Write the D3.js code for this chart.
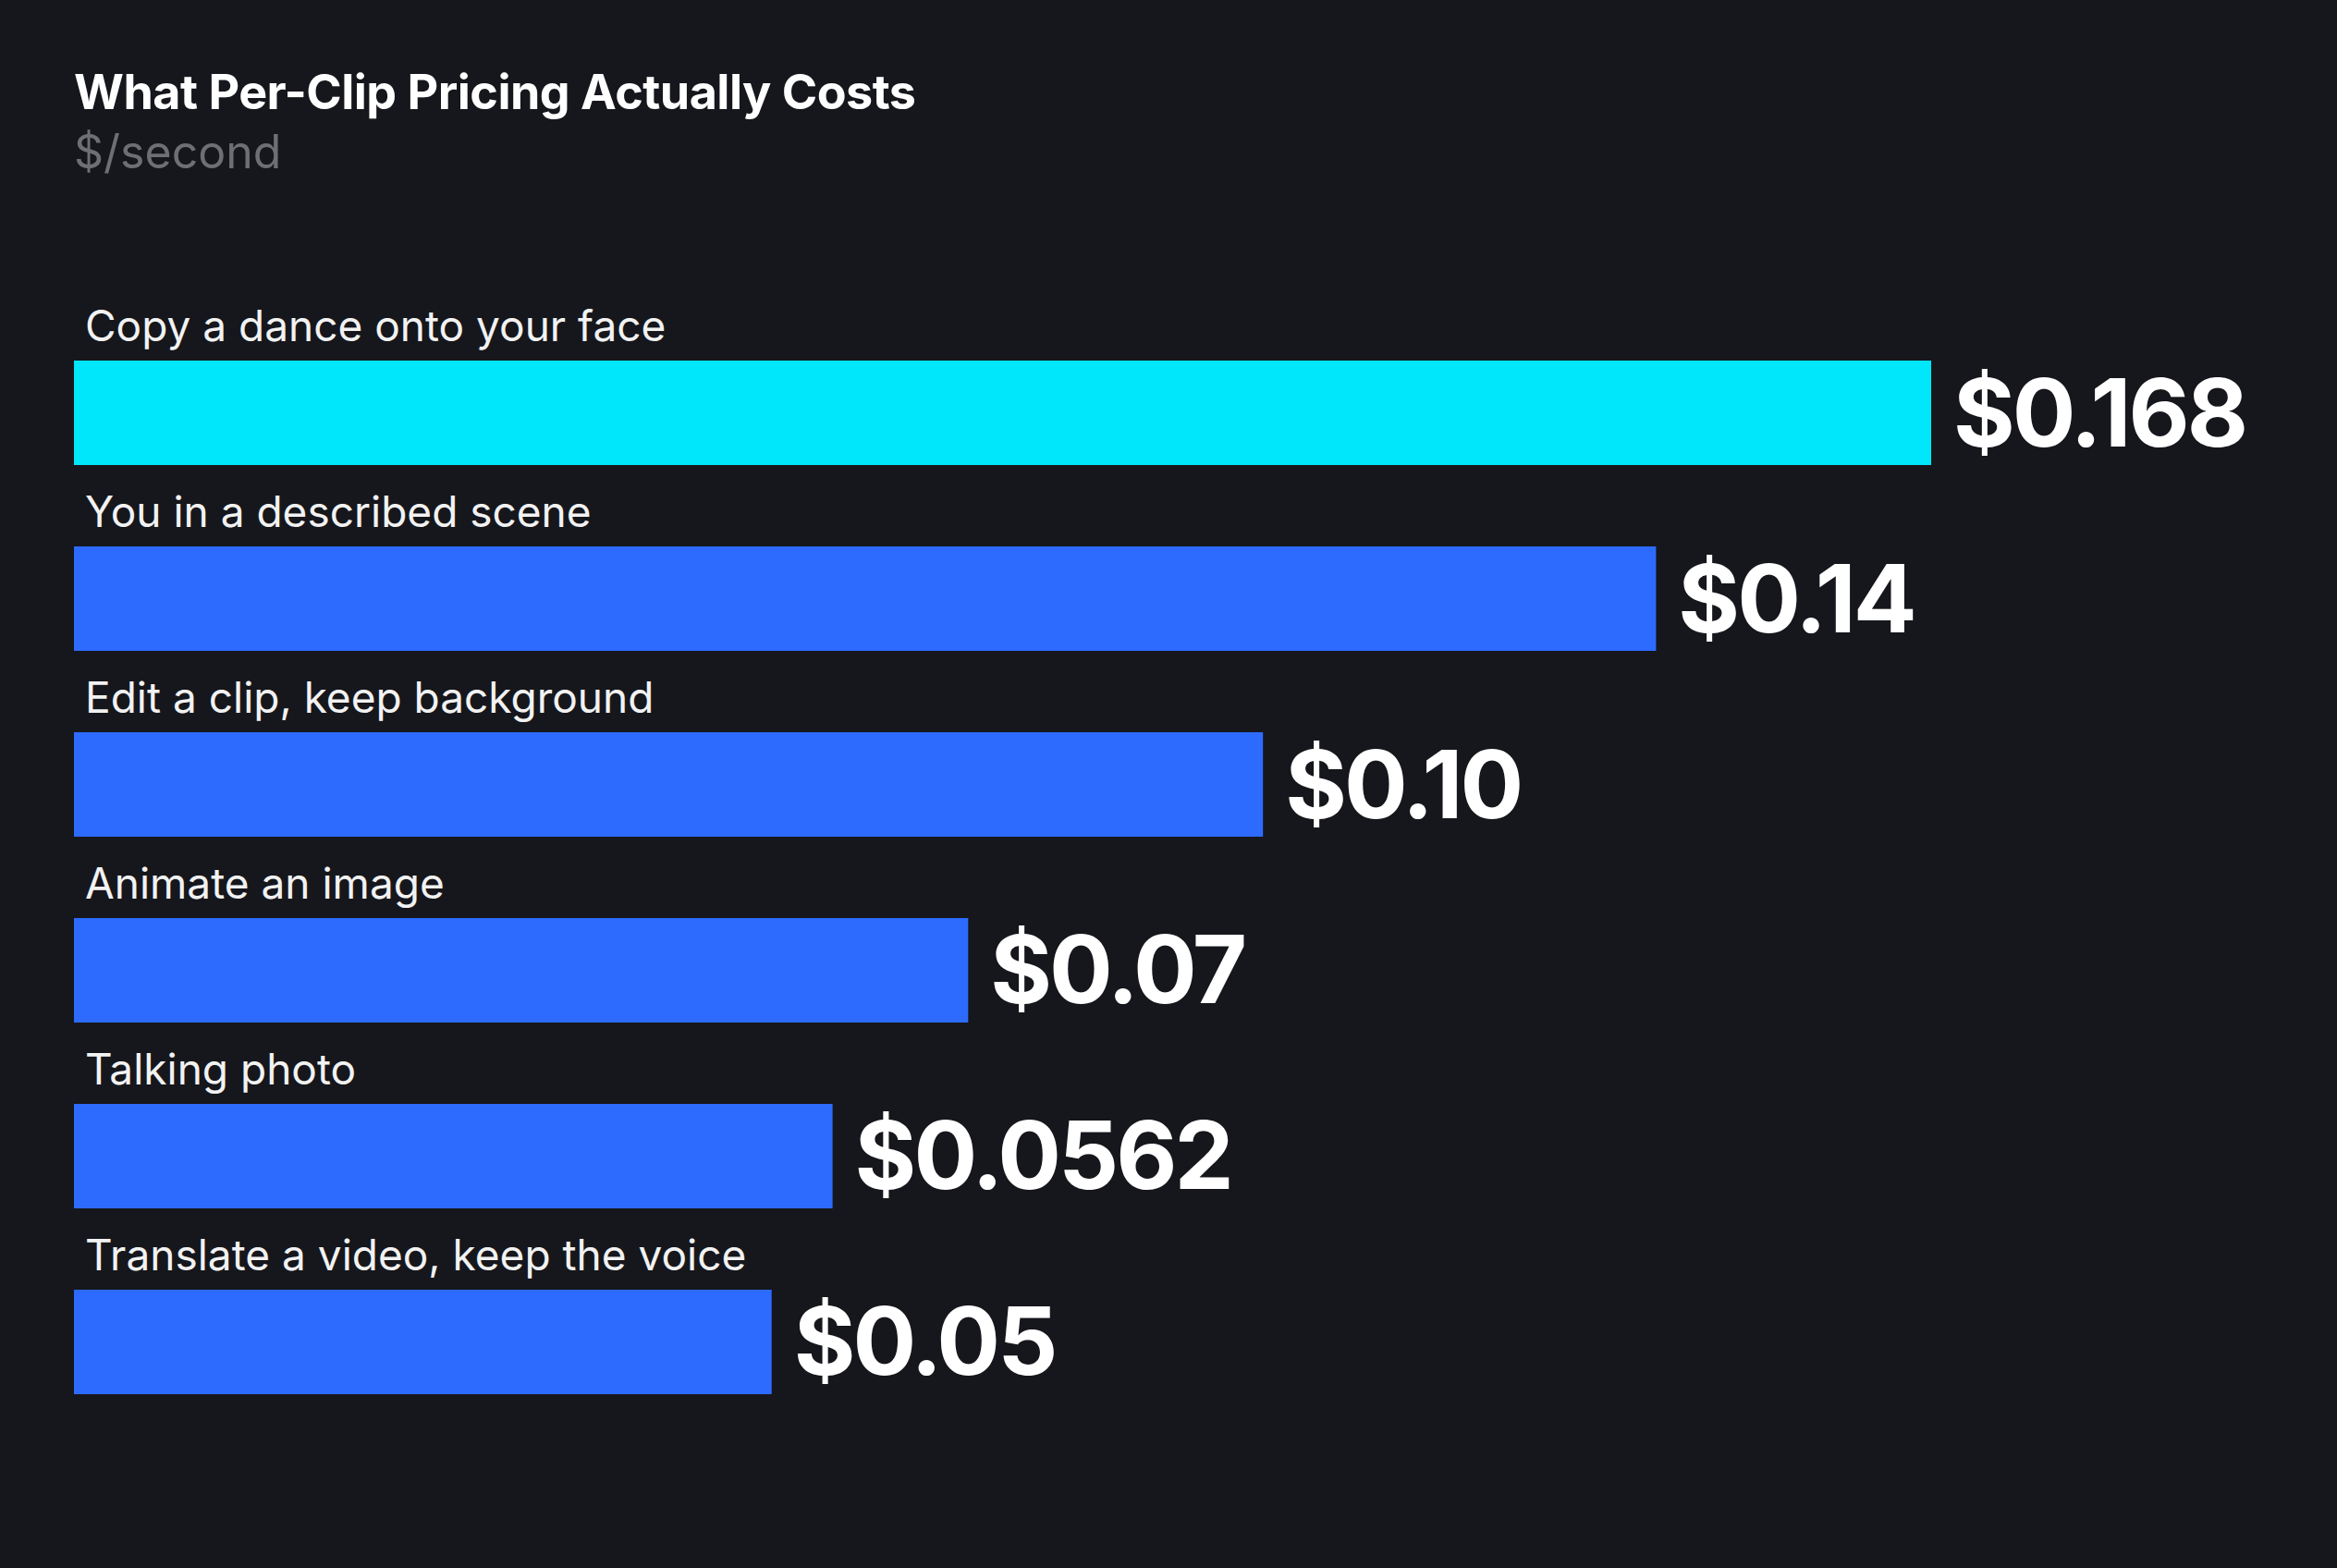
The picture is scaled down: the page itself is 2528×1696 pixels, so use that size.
<!DOCTYPE html>
<html><head><meta charset="utf-8">
<script src="https://cdn.jsdelivr.net/npm/d3@7"></script>
<style>
html,body{margin:0;background:#16171c;}
svg{display:block;font-family:Inter,"Noto Sans",sans-serif;}
</style></head>
<body><svg id="chart"></svg>
<script>
const categories = ["Copy a dance onto your face","You in a described scene","Edit a clip, keep background","Animate an image","Talking photo","Translate a video, keep the voice"];
const values = [0.168, 0.14, 0.10, 0.07, 0.0562, 0.05];
const valueLabels = ["$0.168","$0.14","$0.10","$0.07","$0.0562","$0.05"];

const W = 2528, H = 1696;
const svg = d3.select("#chart").attr("width", W).attr("height", H);
svg.append("rect").attr("width", W).attr("height", H).attr("fill", "#16171c");

svg.append("text").attr("x", 80).attr("y", 118).attr("fill", "#ffffff")
  .attr("font-size", 52).attr("font-weight", 700).attr("letter-spacing", -0.5)
  .text("What Per-Clip Pricing Actually Costs");
svg.append("text").attr("x", 80).attr("y", 182).attr("fill", "#6e6f75")
  .attr("font-size", 50).text("$/second");

const left = 80;
const x = d3.scaleLinear().domain([-0.021, 0.168]).range([0, 2009]);
const y = d3.scaleBand().domain(categories).range([390, 1508]).paddingInner(0.4378).paddingOuter(0);

const g = svg.append("g");
const rows = g.selectAll("g.row").data(categories).join("g").attr("class", "row");

rows.append("text").attr("x", 92).attr("y", d => y(d) - 21)
  .attr("fill", "#f2f2f2").attr("font-size", 46).text(d => d);

rows.append("rect").attr("x", left).attr("y", d => y(d))
  .attr("width", (d, i) => x(values[i])).attr("height", y.bandwidth())
  .attr("fill", (d, i) => i === 0 ? "#00e6fb" : "#2d6bff");

rows.append("text").attr("x", (d, i) => left + x(values[i]) + 24)
  .attr("y", d => y(d) + y.bandwidth() / 2 + 36)
  .attr("fill", "#ffffff").attr("font-size", 102).attr("font-weight", 700)
  .attr("letter-spacing", -3)
  .text((d, i) => valueLabels[i]);
</script></body></html>
